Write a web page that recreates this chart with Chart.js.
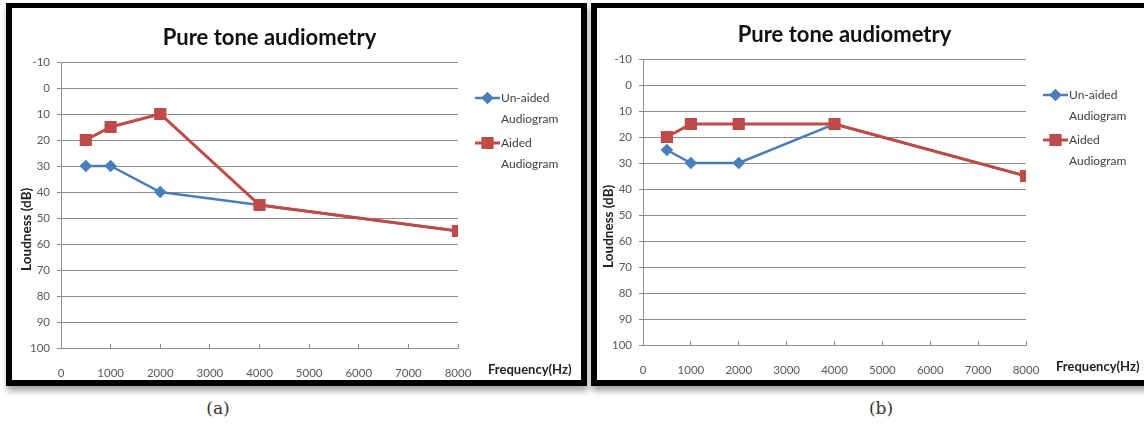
<!DOCTYPE html>
<html>
<head>
<meta charset="utf-8">
<title>Pure tone audiometry</title>
<script src="https://cdn.jsdelivr.net/npm/chart.js@4.4.0/dist/chart.umd.min.js"></script>
<style>
    html, body { margin: 0; padding: 0; background: #fff; }
    body { width: 1144px; height: 427px; position: relative; overflow: hidden; }
    .panel {
        position: absolute;
        box-sizing: border-box;
        background: #fff;
        border: 6px solid #000;
        border-top-width: 5px;
        box-shadow: 1px 5px 6px rgba(0, 0, 0, 0.35);
    }
    #panelA { left: 6px; top: 3px; width: 581px; height: 383px; }
    #panelB { left: 591px; top: 3px; width: 600px; height: 383px; }
    .panel canvas { position: absolute; left: 0; top: 0; }
    .caption {
        position: absolute;
        top: 398px;
        font: 17px 'DejaVu Serif', 'Liberation Serif', serif;
        color: #333;
        transform: translateX(-50%);
    }
</style>
</head>
<body>
<div class="panel" id="panelA"><canvas id="chartA" width="569" height="372"></canvas></div>
<div class="panel" id="panelB"><canvas id="chartB" width="547" height="372"></canvas></div>
<div class="caption" style="left:218px">(a)</div>
<div class="caption" style="left:881px">(b)</div>

<script>
// Data
const frequencies = [500, 1000, 2000, 4000, 8000];
const unaidedA = [30, 30, 40, 45, 55];
const aidedA = [20, 15, 10, 45, 55];
const unaidedB = [25, 30, 30, 15, 35];
const aidedB = [20, 15, 15, 15, 35];

const seriesNames = ['Un-aided Audiogram', 'Aided Audiogram'];
const chartTitle = 'Pure tone audiometry';
const xTitle = 'Frequency(Hz)';
const yTitle = 'Loudness (dB)';

const blue = '#4a7ebb';
const red = '#be4b48';
const gridColor = '#8e8e8e';
const labelColor = '#595959';
const fontFamily = "Lato, 'Open Sans', sans-serif";

// Title, axis titles and the Excel style legend (line + marker, two line text)
const excelExtras = {
    id: 'excelExtras',
    afterDraw(chart) {
        const { ctx, chartArea: a } = chart;
        ctx.save();

        ctx.fillStyle = '#111';
        ctx.font = '700 22px ' + fontFamily;
        ctx.textAlign = 'center';
        ctx.textBaseline = 'middle';
        ctx.fillText(chartTitle, (a.left + a.right) / 2 + 10, a.top - 24);

        ctx.fillStyle = '#222';
        ctx.font = '700 13px ' + fontFamily;
        ctx.textAlign = 'left';
        ctx.fillText(xTitle, a.right + 30, a.bottom + 22);

        ctx.save();
        ctx.translate(a.left - 34, a.top + (a.bottom - a.top) * 0.585);
        ctx.rotate(-Math.PI / 2);
        ctx.textAlign = 'center';
        ctx.font = '700 13.5px ' + fontFamily;
        ctx.fillText(yTitle, 0, 0);
        ctx.restore();

        chart.data.datasets.forEach((ds, i) => {
            const y = a.top + 36 + i * 45;
            const x0 = a.right + 17;
            const x1 = x0 + 25;
            ctx.strokeStyle = ds.borderColor;
            ctx.lineWidth = ds.borderWidth;
            ctx.beginPath();
            ctx.moveTo(x0, y);
            ctx.lineTo(x1, y);
            ctx.stroke();
            ctx.fillStyle = ds.pointBackgroundColor;
            Chart.helpers.drawPoint(ctx, {
                pointStyle: ds.pointStyle,
                radius: ds.pointRadius,
                rotation: 0,
                borderWidth: 1
            }, (x0 + x1) / 2, y);
            ctx.fill();

            const words = ds.label.split(' ');
            ctx.fillStyle = '#404040';
            ctx.font = '12px ' + fontFamily;
            ctx.textAlign = 'left';
            ctx.fillText(words[0], x1 + 1, y);
            ctx.fillText(words.slice(1).join(' '), x1 + 1, y + 21);
        });

        ctx.restore();
    }
};

function makeChart(id, unaided, aided, box) {
    const ctx = document.getElementById(id).getContext('2d');
    const tickFont = { family: fontFamily, size: 11.5 };
    return new Chart(ctx, {
        type: 'line',
        data: {
            datasets: [{
                label: seriesNames[0],
                data: frequencies.map((f, i) => ({ x: f, y: unaided[i] })),
                borderColor: blue,
                backgroundColor: blue,
                pointBackgroundColor: blue,
                pointBorderColor: blue,
                borderWidth: 2.5,
                pointStyle: 'rectRot',
                pointRadius: 4.5,
                order: 1
            }, {
                label: seriesNames[1],
                data: frequencies.map((f, i) => ({ x: f, y: aided[i] })),
                borderColor: red,
                backgroundColor: red,
                pointBackgroundColor: red,
                pointBorderColor: red,
                borderWidth: 3,
                pointStyle: 'rect',
                pointRadius: 6.5,
                order: 0
            }]
        },
        options: {
            responsive: false,
            animation: false,
            layout: { padding: { left: 0, top: box.padTop, right: box.padRight, bottom: 0 } },
            elements: { line: { tension: 0 } },
            plugins: {
                legend: { display: false },
                tooltip: { enabled: false }
            },
            scales: {
                x: {
                    type: 'linear',
                    min: 0,
                    max: 8000,
                    ticks: {
                        stepSize: 1000, color: labelColor, font: tickFont, padding: 22,
                        maxRotation: 0, autoSkip: false,
                        callback: (value) => String(value)
                    },
                    grid: { drawOnChartArea: false, drawTicks: true, tickLength: -4, color: gridColor },
                    border: { color: gridColor },
                    afterFit: (scale) => { scale.height = box.xHeight; }
                },
                y: {
                    reverse: true,
                    min: -10,
                    max: 100,
                    ticks: { stepSize: 10, color: labelColor, font: tickFont, padding: 7 },
                    grid: { color: gridColor, tickLength: 4 },
                    border: { color: gridColor },
                    afterFit: (scale) => { scale.width = box.yWidth; }
                }
            }
        },
        plugins: [excelExtras]
    });
}

document.addEventListener('DOMContentLoaded', () => {
    makeChart('chartA', unaidedA, aidedA, { yWidth: 49, padTop: 54, padRight: 123, xHeight: 32 });
    makeChart('chartB', unaidedB, aidedB, { yWidth: 46, padTop: 51, padRight: 118, xHeight: 35 });
});
</script>
</body>
</html>
